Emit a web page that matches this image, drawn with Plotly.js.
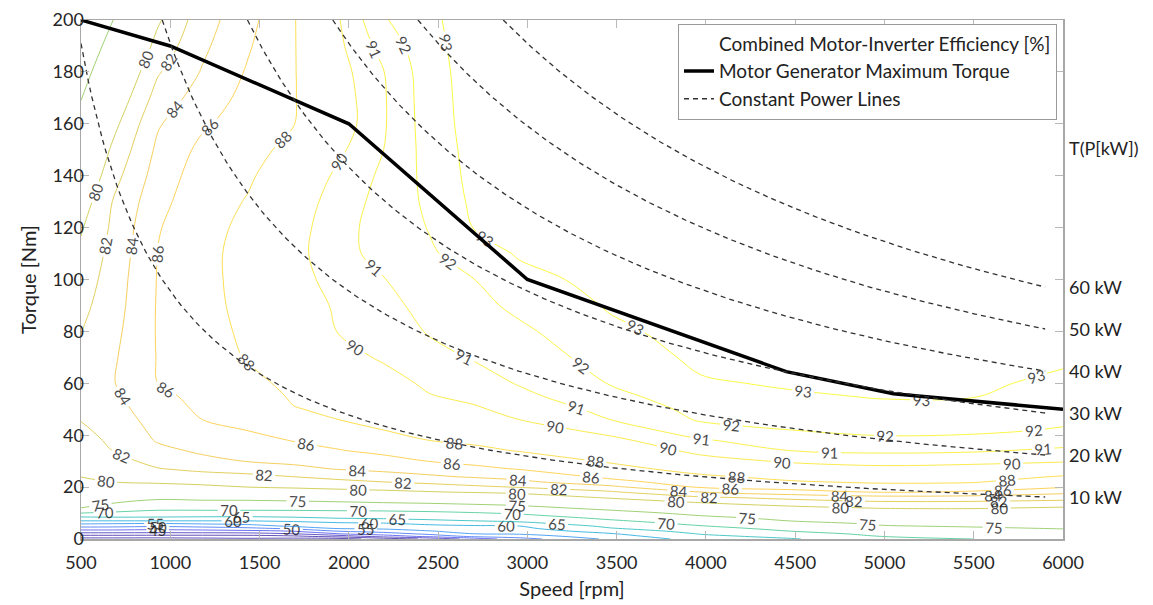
<!DOCTYPE html>
<html><head><meta charset="utf-8">
<script src="https://cdn.plot.ly/plotly-3.0.1.min.js"></script>
<style>html,body{margin:0;padding:0;background:#fff}#chart{width:1153px;height:605px}</style>
</head><body><div id="chart"></div>
<script>
// ---- data ----
const speedGrid = [500, 675, 930, 1180, 1435, 1690, 1945, 2195, 2450, 2705, 2955, 3465, 3970, 4480, 4985, 5495, 6000];
const torqueGrid = [0,1,2,3,4,5,6,7,8,9,10,12,14,16,18,20,22,24,27,30,34,38,42,46,50,55,60,70,80,90,100,110,120,130,140,150,160,170,180,190,200];
// efficiency [%] per speed column, one value per torqueGrid row
const eff500  = [28,32.7,38.1,42.9,47.3,51.7,55.8,60,63.3,66.7,70,75,75.9,76.7,77.6,78.5,79.3,80.05,80.3,80.6,81.0,81.35,81.7,82.07,82.3,82.7,83,82.5,81.95,81.45,80.9,80.4,79.8,78.9,77.8,76.9,75.9,74.9,73.9,72.9,72];
const eff675  = [28,32.7,38.1,42.9,47.3,51.5,55.4,60,63.8,66.7,69.3,72.9,75.2,76.5,77.8,79.1,80,80.33,80.8,81.3,82,82.3,82.6,82.9,83.2,83.5,83.85,83.7,83.4,83.1,82.9,82.6,82.3,82,81.2,80.3,79.3,78.2,77.1,76,74.9];
const eff930  = [28,32.5,38,42.5,46.7,50.8,55,60,63.8,66.4,68.4,71.4,73.8,75.8,77.5,79.2,80.3,80.9,81.9,82.6,83.5,84.17,84.5,84.83,85.17,85.58,86,86.1,86.15,86.15,86.1,86.05,85.85,85.37,84.88,84.4,83.8,82.8,81.8,80.7,79.7];
const eff1180 = [28.5,32.5,38,43,47.3,51.7,55.8,60,63.6,66.1,68.3,71.5,74,76.1,77.8,79.6,80.5,81.3,82.4,83.5,84.3,84.9,85.5,86,86.3,86.5,86.7,87,87.2,87.4,87.5,87.6,87.5,87.3,87,86.5,85.7,84.9,84.15,83.6,83.1];
const eff1435 = [29,32.7,38.1,43.5,48.5,52.9,56.7,60,63.3,66.1,68.3,71.5,74,76.2,78.1,80,80.8,81.5,82.84,84.08,84.75,85.4,86.04,86.4,86.7,87.1,87.5,88.15,88.4,88.55,88.6,88.5,88.35,88.1,87.8,87.4,87,86.6,86.2,85.8,85.4];
const eff1690 = [28,33.75,40,45,50.7,55.9,58.2,60.7,64,66.4,68.4,71.5,74.3,76.4,78.6,80.3,81.2,82,83.5,84.42,85.26,86.08,86.7,87.3,87.92,88.2,88.45,88.95,89.25,89.45,89.55,89.6,89.5,89.3,88.95,88.5,87.95,87.9,87.9,87.9,87.9];
const eff1945 = [28,36.8,45,50,55,57.1,59.2,61.9,65,66.8,68.6,71.7,74.6,76.9,79.1,80.6,81.5,82.6,84.1,84.9,85.9,86.6,87.3,88,88.27,88.6,88.93,89.6,90.05,90.15,90.45,90.8,90.75,90.55,90.25,89.8,89.4,89.45,89.6,89.8,89.95];
const eff2195 = [32,41.9,47.5,52.1,55.6,57.6,59.6,62.7,65.5,67.1,68.7,71.9,75,77.2,79.4,80.9,82,83.1,84.5,85.4,86.4,87.2,88,88.35,88.7,89.1,89.55,90.14,90.42,90.7,90.97,91.2,91.3,91.3,91.2,91,90.9,90.9,90.97,91.4,91.9];
const eff2450 = [36,46.2,51.3,54.7,56.8,58.8,61.2,64.1,66.1,67.6,69.1,72.3,75.4,77.6,79.8,81.2,82.4,83.7,84.9,86.04,87,88,88.46,88.9,89.37,89.94,90.2,90.67,91.08,91.33,91.59,91.85,92.05,92.2,92.3,92.4,92.5,92.55,92.6,92.7,92.8];
const eff2705 = [42,51.2,55,56.6,58,59.5,62.1,65,66.6,68.1,69.7,73.1,75.9,78,80.1,81.6,83,84.2,85.55,86.5,87.6,88.32,88.84,89.35,89.87,90.25,90.56,91.09,91.39,91.7,92,92.53,93.05,93.2,93.3,93.35,93.4,93.42,93.45,93.48,93.5];
const eff2955 = [48,52.3,55.5,57.3,58.8,60,63.6,65.9,67.5,69.1,70.6,73.9,76.4,78.5,80.5,82.1,83.55,84.7,86.1,87,88.08,88.7,89.36,90,90.33,90.75,91.07,91.44,91.8,92.24,92.7,93.1,93.3,93.4,93.42,93.45,93.47,93.5,93.5,93.5,93.5];
const eff3465 = [56,57.8,59.6,62,64.5,66.25,67.8,69.4,70.8,72.2,73.6,76.1,78.3,80.3,81.65,83.5,85.4,86.4,87.4,88.2,88.95,89.7,90.4,91,91.3,91.7,92.05,92.43,92.8,93.1,93.3,93.4,93.45,93.5,93.5,93.5,93.5,93.5,93.5,93.5,93.5];
const eff3970 = [62,63.7,65.3,66.8,68.3,69.8,71.2,72.4,73.7,75,76,78,80,81.7,83.9,86.2,86.98,87.7,88.66,89.5,90.33,90.9,91.6,92.1,92.3,92.6,92.9,93.2,93.35,93.45,93.5,93.5,93.5,93.5,93.5,93.5,93.5,93.5,93.5,93.5,93.5];
const eff4480 = [64.6,66.4,68.2,70,71.3,72.6,73.85,75.1,76,76.8,77.7,79.5,81,82.55,85.17,86.8,87.84,88.49,89.36,90.17,91,91.5,92,92.28,92.55,92.9,93.1,93.3,93.4,93.45,93.5,93.5,93.5,93.5,93.5,93.5,93.5,93.5,93.5,93.5,93.5];
const eff4985 = [68.5,70,71.2,72.4,73.6,74.8,75.5,76.25,77,77.8,78.6,80.15,81.6,83.3,86,87.25,88.24,88.8,89.7,90.4,91.17,91.83,92.2,92.5,92.8,93.05,93.2,93.35,93.45,93.5,93.5,93.5,93.5,93.5,93.5,93.5,93.5,93.5,93.5,93.5,93.5];
const eff5495 = [70,71.1,72.2,73.3,74.4,75.35,76.05,76.7,77.4,78.1,78.8,80.2,81.6,83.2,85.67,87.1,88.14,88.71,89.57,90.3,91.1,91.75,92.17,92.44,92.7,93.04,93.2,93.35,93.45,93.5,93.5,93.5,93.5,93.5,93.5,93.5,93.5,93.5,93.5,93.5,93.5];
const eff6000 = [71.5,72.4,73.3,74.2,75.1,75.7,76.3,76.9,77.5,78.1,78.6,79.8,81.3,82.8,84.45,86.13,87,87.87,89.08,90.12,90.82,91.4,91.93,92.15,92.32,92.54,92.75,93.2,93.3,93.4,93.5,93.5,93.5,93.5,93.5,93.5,93.5,93.5,93.5,93.5,93.5];
const contourLevels = [30,35,40,45,50,55,60,65,70,75,80,82,84,86,88,90,91,92,93];

const maxTorqueSpeed = [500, 1000, 2000, 3000, 4450, 5050, 6000];
const maxTorqueValue = [200, 190, 160, 100, 64.5, 56, 50];

const powerKW = [10, 20, 30, 40, 50, 60];
const powerLabels = ['10 kW', '20 kW', '30 kW', '40 kW', '50 kW', '60 kW'];
const powerLineEndSpeed = 5900;

const xTicks = [500,1000,1500,2000,2500,3000,3500,4000,4500,5000,5500,6000];
const yTicks = [0,20,40,60,80,100,120,140,160,180,200];

// ---- build ----
const FONT = 'Lato, "Open Sans", sans-serif';
const effColumns = [eff500,eff675,eff930,eff1180,eff1435,eff1690,eff1945,eff2195,eff2450,eff2705,eff2955,eff3465,eff3970,eff4480,eff4985,eff5495,eff6000];
const zGrid = torqueGrid.map((_, r) => effColumns.map(col => col[r]));

const parulaAnchors = [[0.2422,0.1504,0.6603],[0.2810,0.3228,0.9579],[0.1786,0.5289,0.9682],[0.0689,0.6948,0.8394],[0.2161,0.7843,0.5923],[0.6720,0.7793,0.2227],[0.9970,0.7659,0.2199],[0.9769,0.9839,0.0805]];
function parula(t){
  t = Math.max(0, Math.min(1, t));
  const s = t*(parulaAnchors.length-1), i = Math.min(Math.floor(s), parulaAnchors.length-2), f = s-i;
  const c = parulaAnchors[i].map((v,k)=> v + (parulaAnchors[i+1][k]-v)*f);
  return 'rgb(' + c.map(v=>Math.round(v*255)).join(',') + ')';
}
const cMin = 38, cMax = 93;
// extra empty levels (far above the data) only tighten Plotly's label spacing along each line
const LABEL_LEVELS = 150;

const traces = [];
traces.push({type:'scatter', x:[null], y:[null], mode:'lines', name:'Combined Motor-Inverter Efficiency [%]',
  line:{color:'rgba(0,0,0,0)', width:1}, hoverinfo:'skip'});

contourLevels.forEach(L => {
  traces.push({
    type:'contour', x: speedGrid, y: torqueGrid, z: zGrid,
    autocontour:false,
    contours:{start:L, end:L + 1000*(LABEL_LEVELS-1), size:1000, coloring:'none', showlabels:true,
      labelformat:'.0f', labelfont:{family:FONT, size:15, color:'#1a1a1a'}},
    line:{color: parula((L-cMin)/(cMax-cMin)), width:1, smoothing:1},
    showscale:false, showlegend:false, hoverinfo:'skip', opacity:0.8
  });
});

traces.push({type:'scatter', mode:'lines', x:maxTorqueSpeed, y:maxTorqueValue,
  name:'Motor Generator Maximum Torque', line:{color:'#000', width:3.5}, hoverinfo:'skip'});

const powerEnds = [];
powerKW.forEach((P, idx) => {
  const n0 = Math.max(500, 9549.3*P/200);
  const xs = [], ys = [];
  for (let n = n0; n < powerLineEndSpeed; n += 20) { xs.push(n); ys.push(9549.3*P/n); }
  xs.push(powerLineEndSpeed); ys.push(9549.3*P/powerLineEndSpeed);
  powerEnds.push(ys[ys.length-1]);
  traces.push({type:'scatter', mode:'lines', x:xs, y:ys, name:'Constant Power Lines',
    legendgroup:'pw', showlegend: idx===0, line:{color:'#333', width:1.3, dash:'5px,4px'}, hoverinfo:'skip'});
});

const PL=81, PR=1063, PT=20, PB=539;
const px = v => (v-PL)/(PR-PL), py = v => (PB-v)/(PB-PT);
const shapes = [
  {type:'circle', xref:'paper', yref:'paper', x0:px(683), x1:px(711.5), y0:py(50.5), y1:py(36.5), line:{color:'#8a80e0', width:1.3}},
  {type:'circle', xref:'paper', yref:'paper', x0:px(688), x1:px(706.5), y0:py(48), y1:py(39), line:{color:'#3ec8d8', width:1.3}},
  {type:'circle', xref:'paper', yref:'paper', x0:px(693), x1:px(701.5), y0:py(46.5), y1:py(41.5), line:{color:'#f2e800', width:1.3}}
];

const annotations = [
  {xref:'paper', yref:'paper', x:px(1067), y:py(148), xanchor:'left', yanchor:'middle', text:'T(P[kW])', showarrow:false, font:{family:FONT, size:18, color:'#222'}}
];
powerKW.forEach((P, i) => annotations.push({
  xref:'paper', yref:'y', x:px(1067), y:powerEnds[i], xanchor:'left', yanchor:'middle',
  text:powerLabels[i], showarrow:false, font:{family:FONT, size:18, color:'#222'}
}));

const axisCommon = {
  showgrid:false, zeroline:false, showline:true, linecolor:'#a8a8a8', linewidth:1.5,
  mirror:'ticks', ticks:'inside', ticklen:8, tickcolor:'#b8b8b8', tickwidth:1,
  tickfont:{family:FONT, size:18, color:'#262626'}
};

const layout = {
  width:1153, height:605,
  margin:{l:PL, r:1153-PR, t:PT, b:605-PB},
  paper_bgcolor:'#fff', plot_bgcolor:'#fff',
  font:{family:FONT, color:'#222'},
  xaxis: Object.assign({}, axisCommon, {range:[500,6000], tickvals:xTicks, ticktext:xTicks.map(String),
    ticklabelstandoff:7,
    title:{text:'Speed [rpm]', font:{family:FONT, size:20, color:'#222'}, standoff:10}}),
  yaxis: Object.assign({}, axisCommon, {range:[0,200], tickvals:yTicks, ticktext:yTicks.map(String),
    ticklabelstandoff:-8,
    title:{text:'Torque [Nm]', font:{family:FONT, size:20, color:'#222'}, standoff:10}}),
  legend:{x:px(678), y:py(23.5), xanchor:'left', yanchor:'top', bgcolor:'#fff', bordercolor:'#9a9a9a', borderwidth:1,
    font:{family:FONT, size:19, color:'#222'}, itemwidth:30, traceorder:'normal'},
  shapes, annotations, showlegend:true
};

Plotly.newPlot('chart', traces, layout, {staticPlot:true, displayModeBar:false});
</script>
</body></html>
